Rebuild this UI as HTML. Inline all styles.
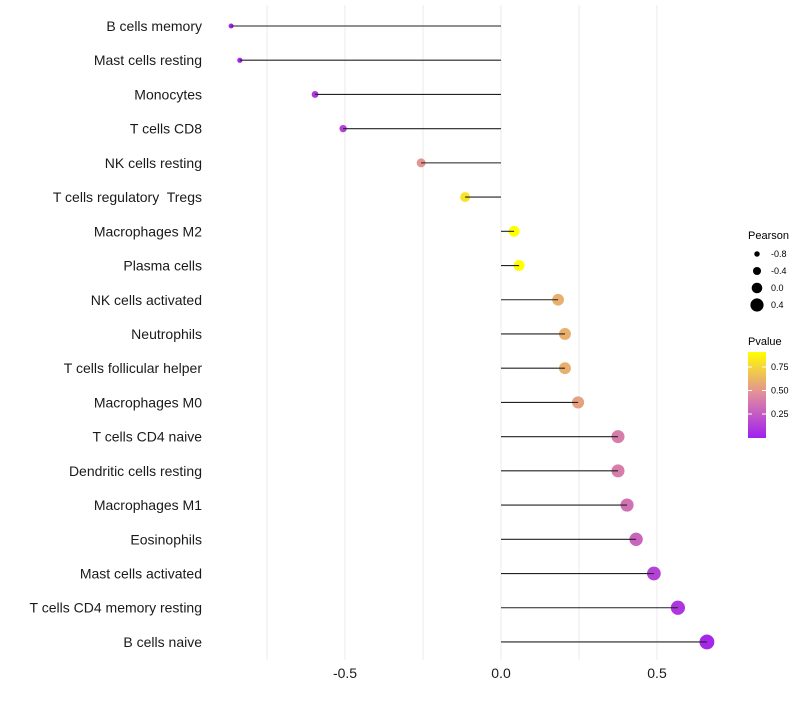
<!DOCTYPE html>
<html><head><meta charset="utf-8"><style>
body{margin:0;background:#fff;font-family:"Liberation Sans",sans-serif}
text{white-space:pre}
</style></head><body>
<svg id="chart" width="800" height="700" xmlns="http://www.w3.org/2000/svg">
<defs><linearGradient id="pg" x1="0" y1="1" x2="0" y2="0">
<stop offset="0" stop-color="#a020f0"/><stop offset="0.5" stop-color="#df8aa0"/><stop offset="1" stop-color="#ffff00"/></linearGradient></defs>
<g id="grid"></g><g id="marks"></g><g id="labels"></g>
<g font-size="11">
<text x="748" y="239">Pearson</text>
<g id="sizeleg"></g>
<text x="748" y="345">Pvalue</text>
<rect x="748" y="352" width="18" height="86" fill="url(#pg)"/>
<g id="colleg" font-size="9"></g>
</g>
</svg>
<script>
const cells=["B cells memory","Mast cells resting","Monocytes","T cells CD8","NK cells resting","T cells regulatory  Tregs","Macrophages M2","Plasma cells","NK cells activated","Neutrophils","T cells follicular helper","Macrophages M0","T cells CD4 naive","Dendritic cells resting","Macrophages M1","Eosinophils","Mast cells activated","T cells CD4 memory resting","B cells naive"];
const pearson=[-0.865,-0.837,-0.596,-0.506,-0.256,-0.115,0.042,0.058,0.183,0.205,0.205,0.247,0.375,0.375,0.404,0.433,0.49,0.567,0.66];
const pvalue=[0.03,0.04,0.1,0.15,0.5,0.8,0.92,0.92,0.6,0.6,0.6,0.55,0.4,0.4,0.35,0.3,0.15,0.1,0.04];
const xTicks=[-0.5,0,0.5];
const xTickLabels=["-0.5","0.0","0.5"];
const sizeLegend=[-0.8,-0.4,0.0,0.4];
const colorTicks=[0.25,0.5,0.75];
const NS="http://www.w3.org/2000/svg";
const x=v=>501+v*312, y=i=>26+i*34.22, r=v=>5.3+3.2*v;
const pyc=p=>437-(p-0.005)/(0.905)*85;
function col(p){const t=Math.max(0,Math.min(1,(p-0.005)/0.905));
 const a=[160,32,240],m=[223,138,160],b=[255,255,0];let c;
 if(t<0.5){const u=t/0.5;c=a.map((v,k)=>v+(m[k]-v)*u)}else{const u=(t-0.5)/0.5;c=m.map((v,k)=>v+(b[k]-v)*u)}
 return `rgb(${c.map(Math.round).join(',')})`;}
function el(t,at,p){const e=document.createElementNS(NS,t);for(const k in at)e.setAttribute(k,at[k]);p.appendChild(e);return e;}
const G=document.getElementById('grid'),M=document.getElementById('marks'),L=document.getElementById('labels');
[-0.75,-0.5,-0.25,0,0.25,0.5].forEach(v=>{const g=el('line',{x1:x(v),x2:x(v),y1:5,y2:660,stroke:'#ebebeb','stroke-width':1},G);
});
cells.forEach((c,i)=>{
 const d=el('circle',{cx:x(pearson[i]),cy:y(i),r:r(pearson[i]),fill:col(pvalue[i])},M);
 
 const l=el('line',{x1:x(0),x2:x(pearson[i]),y1:y(i),y2:y(i),stroke:'#222','stroke-width':1.1},M);
 
 const t=el('text',{x:202,y:y(i)+5,'text-anchor':'end','font-size':14,fill:'#1a1a1a'},L);t.textContent=c;
 
});
xTicks.forEach((v,i)=>{const t=el('text',{x:x(v),y:678,'text-anchor':'middle','font-size':14,fill:'#1a1a1a'},L);t.textContent=xTickLabels[i];
 });
const S=document.getElementById('sizeleg');
sizeLegend.forEach((v,i)=>{const yy=254+i*17;
 const c=el('circle',{cx:757,cy:yy,r:r(v),fill:'#000'},S);
 const t=el('text',{x:771,y:yy+3,'font-size':9},S);t.textContent=v.toFixed(1);});
const C=document.getElementById('colleg');
colorTicks.forEach(v=>{const yy=pyc(v);
 const l=el('line',{x1:748,x2:752,y1:yy,y2:yy,stroke:'#fff'},C);
 const l2=el('line',{x1:762,x2:766,y1:yy,y2:yy,stroke:'#fff'},C);
 const t=el('text',{x:771,y:yy+3},C);t.textContent=v.toFixed(2);});
</script>
</body></html>
